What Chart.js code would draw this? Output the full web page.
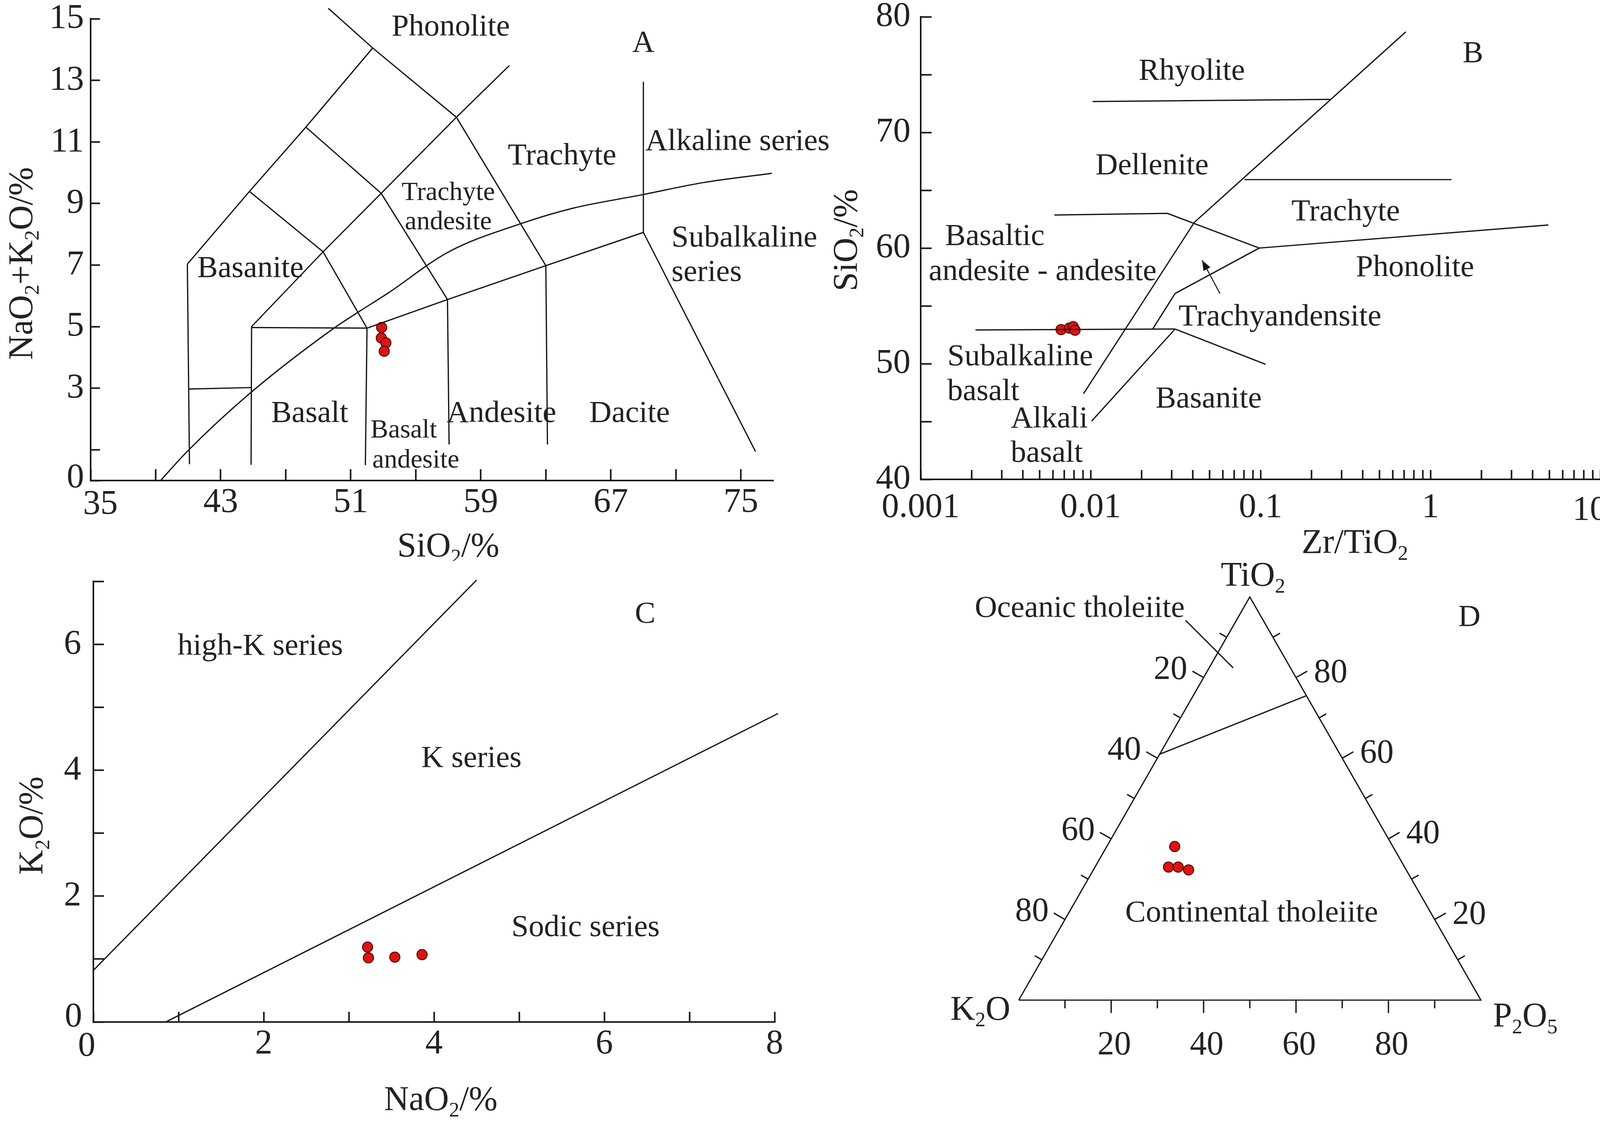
<!DOCTYPE html>
<html lang="en">
<head>
<meta charset="utf-8">
<title>Geochemical classification diagrams</title>
<script src="https://cdn.jsdelivr.net/npm/chart.js@4.4.1/dist/chart.umd.min.js"></script>
<style>
  html, body { margin:0; padding:0; background:#ffffff; }
  body { position:relative; width:4124px; height:2872px; overflow:hidden; }
  .panel { position:absolute; }
  .panel canvas { display:block; }
</style>
</head>
<body>
<div class="panel" style="left:0px;top:0px;width:2250px;height:1436px;"><canvas id="chartA"></canvas></div>
<div class="panel" style="left:2080px;top:0px;width:2044px;height:1436px;"><canvas id="chartB"></canvas></div>
<div class="panel" style="left:0px;top:1436px;width:2060px;height:1436px;"><canvas id="chartC"></canvas></div>
<div class="panel" style="left:2080px;top:1436px;width:2044px;height:1436px;"><canvas id="chartD"></canvas></div>
<script>
// ================= DATA =================
// ---- Panel A : TAS diagram (SiO2 vs Na2O+K2O) ----
const tasXTicks  = [35, 39, 43, 47, 51, 55, 59, 63, 67, 71, 75];
const tasXLabels = [35, 43, 51, 59, 67, 75];
const tasYTicks  = [0, 1, 3, 5, 7, 9, 11, 13, 15];
const tasYLabels = [0, 3, 5, 7, 9, 11, 13, 15];
const tasSamples = [[52.9, 4.97], [52.88, 4.63], [53.16, 4.47], [53.06, 4.20]];
const tasBoundaries = [
  [[49.62, 15.34], [52.35, 14.05], [57.5, 11.8], [63.0, 6.98], [63.1, 1.17]],
  [[44.9, 5.0], [49.3, 7.43], [52.87, 9.33], [57.5, 11.8], [60.75, 13.48]],
  [[40.95, 7.03], [44.77, 9.39], [48.24, 11.48], [52.35, 14.05]],
  [[44.77, 9.39], [49.3, 7.43], [52.0, 4.95]],
  [[48.24, 11.48], [52.87, 9.33], [56.95, 5.88]],
  [[44.9, 4.97], [52.0, 4.95]],
  [[52.0, 4.95], [56.95, 5.88], [63.0, 6.98], [69.0, 8.06]],
  [[40.95, 7.03], [41.08, 0.53]],
  [[41.0, 2.97], [44.9, 3.02]],
  [[44.9, 5.0], [44.87, 0.51]],
  [[52.0, 4.95], [51.9, 0.5]],
  [[56.95, 5.88], [57.05, 1.17]],
  [[69.0, 12.95], [69.0, 8.06], [75.9, 0.94]]
];
const tasAlkalineCurve = [[39.3, 0], [40.97, 0.96], [44.77, 2.82], [49.86, 4.91], [51.46, 5.47],
  [53.3, 6.09], [57.0, 7.42], [61.5, 8.35], [64.7, 8.85], [68.8, 9.27], [72.7, 9.68], [76.9, 9.98]];

// ---- Panel B : SiO2 vs Zr/TiO2 ----
const zrXTicks = [0.001, 0.002, 0.003, 0.004, 0.005, 0.006, 0.007, 0.008, 0.009,
  0.01, 0.02, 0.03, 0.04, 0.05, 0.06, 0.07, 0.08, 0.09,
  0.1, 0.2, 0.3, 0.4, 0.5, 0.6, 0.7, 0.8, 0.9,
  1, 2, 3, 4, 5, 6, 7, 8, 9, 10];
const zrXMajor  = [0.001, 0.01, 0.1, 1, 10];
const zrXLabels = ['0.001', '0.01', '0.1', '1', '10'];
const zrYTicks  = [40, 45, 50, 55, 60, 65, 70, 75, 80];
const zrYLabels = [40, 50, 60, 70, 80];
const zrSamples = [[0.0067, 52.95], [0.0075, 53.08], [0.0079, 53.2], [0.0081, 52.9]];
const zrBoundaries = [
  [[0.01028, 72.67], [0.259, 72.86]],
  [[0.716, 78.7], [0.0408, 62.23], [0.00908, 47.4]],
  [[0.00612, 62.86], [0.0283, 63.0], [0.0982, 60.0], [4.94, 62.0]],
  [[0.0803, 65.92], [1.33, 65.92]],
  [[0.0982, 60.0], [0.0314, 56.07], [0.0232, 53.0]],
  [[0.0021, 52.92], [0.0314, 53.0]],
  [[0.0314, 53.0], [0.107, 49.95]],
  [[0.0314, 53.0], [0.01014, 45.04]]
];
const zrArrow = [[0.0577, 56.07], [0.0453, 58.95]];

// ---- Panel C : K2O vs Na2O ----
const kXTicks  = [0, 1, 2, 3, 4, 5, 6, 7, 8];
const kXLabels = [0, 2, 4, 6, 8];
const kYTicks  = [0, 1, 2, 3, 4, 5, 6, 7];
const kYLabels = [0, 2, 4, 6];
const kSamples = [[3.22, 1.19], [3.23, 1.02], [3.54, 1.03], [3.86, 1.07]];
const kBoundaries = [
  [[0, 0.82], [4.5, 7.02]],
  [[0.85, 0], [8.04, 4.9]]
];

// ---- Panel D : TiO2 - K2O - P2O5 ternary  (each entry: [TiO2, K2O, P2O5]) ----
const ternSamples  = [[38.1, 47.2, 14.7], [33.0, 51.1, 15.9], [33.0, 49.0, 18.0], [32.3, 47.1, 20.6]];
const ternFrame    = [[0, 100, 0], [0, 0, 100], [100, 0, 0], [0, 100, 0]];
const ternDivider  = [[61, 39, 0], [75.5, 0, 24.5]];
const ternPointer  = [[94.2, 16.8, -11.0], [82.4, 12.4, 5.2]];
const ternTicks      = [10, 20, 30, 40, 50, 60, 70, 80, 90];
const ternTickLabels = [20, 40, 60, 80];

// ---- Text annotations (name, x, y[, align]) ----
const tasNames = [
  ['Phonolite', 57.15, 14.77], ['A', 69.0, 14.26], ['Trachyte', 64.0, 10.59],
  ['Alkaline series', 69.12, 11.06, 'left'], ['Subalkaline', 70.73, 7.92, 'left'], ['series', 70.73, 6.81, 'left'],
  ['Basanite', 44.83, 6.93], ['Basalt', 48.47, 2.23], ['Andesite', 60.27, 2.23], ['Dacite', 68.15, 2.23]
];
const tasSmallNames = [
  ['Trachyte', 57.0, 9.39], ['andesite', 57.0, 8.43], ['Basalt', 54.26, 1.67], ['andesite', 55.0, 0.70]
];
const zrNames = [
  ['Rhyolite', 0.0394, 75.42], ['B', 1.78, 76.92], ['Dellenite', 0.023, 67.23], ['Trachyte', 0.317, 63.26],
  ['Basaltic', 0.00273, 61.14], ['andesite - andesite', 0.00522, 58.07], ['Phonolite', 0.811, 58.42],
  ['Trachyandensite', 0.130, 54.17], ['Subalkaline', 0.001435, 50.73, 'left'], ['basalt', 0.001435, 47.7, 'left'],
  ['Alkali', 0.00571, 45.36], ['basalt', 0.00552, 42.39], ['Basanite', 0.0495, 47.07]
];
const kNames = [
  ['high-K series', 1.96, 5.99], ['K series', 4.44, 4.21], ['Sodic series', 5.78, 1.52], ['C', 6.48, 6.5]
];
const ternNames = [
  ['Oceanic tholeiite', 13.2, 84.4], ['Continental tholeiite', 50.4, 19.0], ['D', 97.5, 82.5]
];
const ternVertexNames = [['TiO_2', 50.7, 91.4], ['K_2O', -8.3, -1.8], ['P_2O_5', 109.6, -3.3]];
// corner tick labels that sit slightly off their ticks in the original (label, x, y)
const tasCornerLabels = [[String(tasXLabels[0]), 35.6, -0.72], [String(tasYLabels[0]), 34.06, 0.15]];
const zrCornerLabels  = [[zrXLabels[4], 8.67, 37.47]];
const kCornerLabels   = [[String(kXLabels[0]), -0.078, -0.354], [String(kYLabels[0]), -0.234, 0.11]];

// ================= STYLE / HELPERS =================
const FONT = '"Liberation Serif", "Times New Roman", serif';
const INK = '#151515';
const TXT = '#222222';
const LW = 3.2;
const S_LABEL = 79, S_SMALL = 68, S_TICK = 89, S_TITLE = 88;

function drawRich(ctx, text, px, py, size, align, rot) {
  const segs = [];
  for (let i = 0; i < text.length; i++) {
    if (text[i] === '_' && i + 1 < text.length) { segs.push({ s: text[i + 1], sub: true }); i++; }
    else if (segs.length && !segs[segs.length - 1].sub) segs[segs.length - 1].s += text[i];
    else segs.push({ s: text[i], sub: false });
  }
  const fN = size + 'px ' + FONT, fS = Math.round(size * 0.6) + 'px ' + FONT;
  let w = 0;
  for (const sg of segs) { ctx.font = sg.sub ? fS : fN; sg.w = ctx.measureText(sg.s).width; w += sg.w; }
  ctx.save();
  ctx.translate(px, py);
  if (rot) ctx.rotate(rot);
  let x0 = align === 'left' ? 0 : (align === 'right' ? -w : -w / 2);
  const base = size * 0.32;
  ctx.fillStyle = TXT; ctx.textAlign = 'left'; ctx.textBaseline = 'alphabetic';
  for (const sg of segs) {
    ctx.font = sg.sub ? fS : fN;
    ctx.fillText(sg.s, x0, sg.sub ? base + size * 0.2 : base);
    x0 += sg.w;
  }
  ctx.restore();
}

function textPlugin(items) {
  return {
    id: 'textLayer',
    afterDatasetsDraw(chart) {
      const { ctx, scales } = chart;
      for (const it of items) {
        drawRich(ctx, it.t, scales.x.getPixelForValue(it.x), scales.y.getPixelForValue(it.y),
          it.size, it.align || 'center', it.rot || 0);
      }
    }
  };
}
function names(list, size) {
  return list.map(n => ({ t: n[0], x: n[1], y: n[2], align: n[3] || 'center', size }));
}

function lineSets(lines, extra) {
  return lines.map(pts => Object.assign({
    data: pts.map(([x, y]) => ({ x, y })), showLine: true, borderColor: INK, borderWidth: LW,
    pointRadius: 0, pointHoverRadius: 0, fill: false, tension: 0, clip: false
  }, extra || {}));
}
function sampleSet(pts) {
  return {
    data: pts.map(([x, y]) => ({ x, y })), showLine: false, pointRadius: 13, pointHoverRadius: 13,
    pointBackgroundColor: '#dc1414', pointBorderColor: '#5c0000', pointBorderWidth: 2.5, clip: false
  };
}

function axis(opts) {
  const { type, min, max, ticks, labelFn, tickLen, pad, isX } = opts;
  return {
    type: type || 'linear', min, max,
    afterBuildTicks: ax => { ax.ticks = ticks.map(v => ({ value: v })); },
    afterFit: ax => {
      if (isX) ax.height = 150; else ax.width = 200;
      ax.paddingLeft = 0; ax.paddingRight = 0; ax.paddingTop = 0; ax.paddingBottom = 0;
    },
    grid: { display: true, drawOnChartArea: false, drawTicks: true, tickLength: -tickLen, tickWidth: 4, tickColor: INK },
    border: { display: true, color: INK, width: 4 },
    ticks: {
      autoSkip: false, maxRotation: 0, minRotation: 0, padding: pad, color: TXT,
      font: { family: FONT, size: S_TICK }, callback: v => labelFn(v)
    }
  };
}

function baseOptions(padding, scales) {
  return {
    responsive: true, maintainAspectRatio: false, animation: false, devicePixelRatio: 1,
    layout: { padding },
    plugins: { legend: { display: false }, tooltip: { enabled: false } },
    events: [],
    scales
  };
}

// ================= PANEL A =================
new Chart(document.getElementById('chartA'), {
  type: 'scatter',
  data: {
    datasets: [
      ...lineSets(tasBoundaries),
      ...lineSets([tasAlkalineCurve], { cubicInterpolationMode: 'monotone' }),
      sampleSet(tasSamples)
    ]
  },
  options: baseOptions({ left: 32, right: 270, top: 48, bottom: 56 }, {
    x: axis({ min: 35, max: 77, ticks: tasXTicks, labelFn: v => (tasXLabels.includes(v) && v !== tasXLabels[0]) ? String(v) : '', tickLen: 29, pad: 32, isX: true }),
    y: axis({ min: 0, max: 15, ticks: tasYTicks, labelFn: v => (tasYLabels.includes(v) && v !== tasYLabels[0]) ? String(v) : '', tickLen: 24, pad: 41 })
  }),
  plugins: [textPlugin([
    ...names(tasNames, S_LABEL), ...names(tasSmallNames, S_SMALL), ...names(tasCornerLabels, S_TICK),
    { t: 'SiO_2/%', x: 57.0, y: -2.11, size: S_TITLE },
    { t: 'NaO_2+K_2O/%', x: 30.71, y: 7.05, size: S_TITLE, rot: -Math.PI / 2 }
  ])]
});

// ================= PANEL B =================
const arrowPlugin = {
  id: 'arrowHead',
  afterDatasetsDraw(chart) {
    const { ctx, scales: { x, y } } = chart;
    const x0 = x.getPixelForValue(zrArrow[0][0]), y0 = y.getPixelForValue(zrArrow[0][1]);
    const x1 = x.getPixelForValue(zrArrow[1][0]), y1 = y.getPixelForValue(zrArrow[1][1]);
    const a = Math.atan2(y1 - y0, x1 - x0), L = 26, W = 10;
    ctx.save(); ctx.fillStyle = INK; ctx.beginPath();
    ctx.moveTo(x1, y1);
    ctx.lineTo(x1 - L * Math.cos(a) + W * Math.sin(a), y1 - L * Math.sin(a) - W * Math.cos(a));
    ctx.lineTo(x1 - L * Math.cos(a) - W * Math.sin(a), y1 - L * Math.sin(a) + W * Math.cos(a));
    ctx.closePath(); ctx.fill(); ctx.restore();
  }
};
new Chart(document.getElementById('chartB'), {
  type: 'scatter',
  data: {
    datasets: [
      ...lineSets(zrBoundaries),
      ...lineSets([zrArrow], { borderWidth: 2.6 }),
      sampleSet(zrSamples)
    ]
  },
  options: baseOptions({ left: 77, right: 27, top: 43, bottom: 59 }, {
    x: axis({ type: 'logarithmic', min: 0.001, max: 10, ticks: zrXTicks,
      labelFn: v => { const i = zrXMajor.indexOf(v); return (i >= 0 && i < zrXMajor.length - 1) ? zrXLabels[i] : ''; }, tickLen: 24, pad: 43, isX: true }),
    y: axis({ min: 40, max: 80, ticks: zrYTicks, labelFn: v => zrYLabels.includes(v) ? String(v) : '', tickLen: 28, pad: 54 })
  }),
  plugins: [arrowPlugin, textPlugin([
    ...names(zrNames, S_LABEL), ...names(zrCornerLabels, S_TICK),
    { t: 'Zr/TiO_2', x: 0.359, y: 34.6, size: S_TITLE },
    { t: 'SiO_2/%', x: 0.000361, y: 60.68, size: S_TITLE, rot: -Math.PI / 2 }
  ])]
});

// ================= PANEL C =================
new Chart(document.getElementById('chartC'), {
  type: 'scatter',
  data: { datasets: [...lineSets(kBoundaries), sampleSet(kSamples)] },
  options: baseOptions({ left: 39, right: 77, top: 52, bottom: 106 }, {
    x: axis({ min: 0, max: 8, ticks: kXTicks, labelFn: v => (kXLabels.includes(v) && v !== kXLabels[0]) ? String(v) : '', tickLen: 26, pad: 29, isX: true }),
    y: axis({ min: 0, max: 7, ticks: kYTicks, labelFn: v => (kYLabels.includes(v) && v !== kYLabels[0]) ? String(v) : '', tickLen: 27, pad: 58 })
  }),
  plugins: [textPlugin([
    ...names(kNames, S_LABEL), ...names(kCornerLabels, S_TICK),
    { t: 'NaO_2/%', x: 4.08, y: -1.22, size: S_TITLE },
    { t: 'K_2O/%', x: -0.73, y: 3.12, size: S_TITLE, rot: -Math.PI / 2 }
  ])]
});

// ================= PANEL D (ternary) =================
function tern(c) {
  const s = c[0] + c[1] + c[2];
  return [(c[2] + c[0] / 2) * 100 / s, c[0] * 0.866 * 100 / s];
}
function ternSet(list) { return list.map(tern); }
const ternAxesPlugin = {
  id: 'ternAxes',
  afterDatasetsDraw(chart) {
    const { ctx, scales: { x, y } } = chart;
    const P = c => { const [X, Y] = tern(c); return [x.getPixelForValue(X), y.getPixelForValue(Y)]; };
    const top = P([100, 0, 0]), bl = P([0, 100, 0]), br = P([0, 0, 100]);
    const unit = (dx, dy) => { const l = Math.hypot(dx, dy); return [dx / l, dy / l]; };
    const nL = unit(top[1] - bl[1], -(top[0] - bl[0]));
    const nR = unit(-(top[1] - br[1]), top[0] - br[0]);
    const nB = [0, 1];
    ctx.save(); ctx.strokeStyle = INK; ctx.lineWidth = 3.4; ctx.lineCap = 'butt';
    for (const v of ternTicks) {
      const major = ternTickLabels.includes(v);
      const len = major ? 33 : 21;
      const edges = [[P([100 - v, v, 0]), nL], [P([v, 0, 100 - v]), nR], [P([0, 100 - v, v]), nB]];
      for (const [p, n] of edges) {
        ctx.beginPath(); ctx.moveTo(p[0], p[1]); ctx.lineTo(p[0] + n[0] * len, p[1] + n[1] * len); ctx.stroke();
      }
      if (major) {
        const [pl, pr, pb] = edges.map(e => e[0]);
        drawRich(ctx, String(v), pl[0] + nL[0] * 33 - 13, pl[1] + nL[1] * 33 - 8, 86, 'right');
        drawRich(ctx, String(v), pr[0] + nR[0] * 33 + 17, pr[1] + nR[1] * 33, 86, 'left');
        drawRich(ctx, String(v), pb[0] + 8, pb[1] + 111, 86, 'center');
      }
    }
    ctx.restore();
  }
};
new Chart(document.getElementById('chartD'), {
  type: 'scatter',
  data: {
    datasets: [
      ...lineSets([ternSet(ternFrame), ternSet(ternDivider), ternSet(ternPointer)]),
      sampleSet(ternSet(ternSamples))
    ]
  },
  options: baseOptions({ left: 528, right: 333, top: 92, bottom: 312 }, {
    x: { type: 'linear', min: 0, max: 100, display: false },
    y: { type: 'linear', min: 0, max: 86.6, display: false }
  }),
  plugins: [ternAxesPlugin, textPlugin([
    ...names(ternNames, S_LABEL),
    ...names(ternVertexNames, S_TITLE)
  ])]
});
</script>
</body>
</html>
